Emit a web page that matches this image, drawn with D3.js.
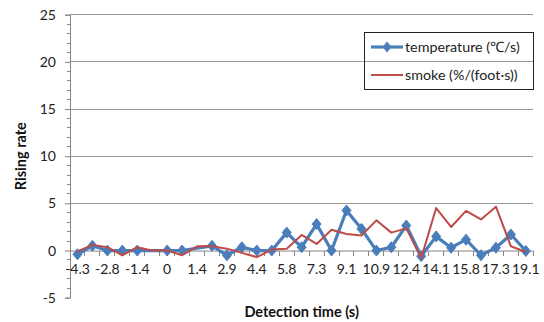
<!DOCTYPE html>
<html><head><meta charset="utf-8">
<script src="https://cdn.jsdelivr.net/npm/d3@7"></script>
<style>body{margin:0;background:#fff}svg{display:block}text{font-family:Lato,"Open Sans",sans-serif}</style>
</head><body><svg id="c" width="544" height="322"></svg>
<script>
const categories = [-4.3,-3.6,-2.8,-2.1,-1.4,-0.7,0,0.7,1.4,2.2,2.9,3.7,4.4,5.1,5.8,6.6,7.3,8.2,9.1,10,10.9,11.7,12.4,13.3,14.1,15,15.8,16.6,17.3,18.2,19.1];
const tickLabels = ["-4.3","-2.8","-1.4","0","1.4","2.9","4.4","5.8","7.3","9.1","10.9","12.4","14.1","15.8","17.3","19.1"];
const temperature = [-0.4,0.5,0,0,0,null,0,0,null,0.5,-0.5,0.35,0,0,1.9,0.35,2.8,0,4.25,2.3,0,0.35,2.65,-0.6,1.5,0.3,1.15,-0.5,0.3,1.7,-0.05];
const smoke = [-0.1,0.6,0.35,-0.5,0.35,0,0,-0.5,0.45,0.45,0.2,-0.25,-0.7,0.1,0.2,1.65,0.7,2.2,1.75,1.6,3.2,1.9,2.35,-0.8,4.5,2.5,4.2,3.3,4.65,0.45,-0.15];
const yTicks = [-5,0,5,10,15,20,25];
const seriesNames = ["temperature (\u2103/s)","smoke (%/(foot\u00b7s))"];
const colors = ["#4A7EBB","#BE4B48"];

const svg = d3.select("#c");
const L = 70, R = 533.3, T = 14.7, B = 297.7;
const x = d3.scaleBand().domain(categories.map(String)).range([L, R]).padding(0);
const y = d3.scaleLinear().domain([-5, 25]).range([B, T]);
const cx = i => x(String(categories[i])) + x.bandwidth()/2;

// gridlines
svg.append("g").selectAll("line").data(yTicks.filter(v => v !== 0 && v !== -5)).join("line")
  .attr("x1", L).attr("x2", R).attr("y1", d => y(d)).attr("y2", d => y(d))
  .attr("stroke", "#9a9a9a").attr("stroke-width", 1).attr("shape-rendering","crispEdges");

// y axis
const ya = svg.append("g").attr("transform", `translate(${L},0)`)
  .call(d3.axisLeft(y).tickValues(yTicks).tickSize(5).tickPadding(9).tickFormat(d => String(d)));
ya.select(".domain").attr("stroke", "#868686");
ya.selectAll(".tick line").attr("stroke", "#868686");
ya.selectAll("text").attr("font-size", 14).attr("fill", "#222").attr("font-family", "Lato,sans-serif");
// minor y ticks
svg.append("g").selectAll("line").data(d3.range(-5, 26, 1).filter(v => v % 5 !== 0)).join("line")
  .attr("x1", L-3).attr("x2", L).attr("y1", d => y(d)).attr("y2", d => y(d))
  .attr("stroke", "#868686").attr("shape-rendering","crispEdges");

// x axis at 0
const xa = svg.append("g").attr("transform", `translate(0,${y(0)})`)
  .call(d3.axisBottom(x).tickValues(categories.filter((c,i)=> i%2===0).map(String)).tickSize(0).tickPadding(14)
  .tickFormat((d,i) => tickLabels[i]));
xa.select(".domain").attr("stroke", "#868686");
xa.selectAll("text").attr("font-size", 14).attr("fill", "#222").attr("font-family", "Lato,sans-serif");
// boundary ticks
svg.append("g").selectAll("line").data(d3.range(categories.length + 1)).join("line")
  .attr("x1", i => L + i * x.step()).attr("x2", i => L + i * x.step())
  .attr("y1", y(0)).attr("y2", y(0) + 5)
  .attr("stroke", "#868686").attr("shape-rendering","crispEdges");

// temperature
const tPts = temperature.map((v,i) => ({i, v})).filter(d => d.v !== null);
svg.append("path").datum(tPts)
  .attr("d", d3.line().x(d => cx(d.i)).y(d => y(d.v)))
  .attr("fill", "none").attr("stroke", colors[0]).attr("stroke-width", 3.2).attr("stroke-linejoin","round");
const diamond = "M0,-5.5L4.5,0L0,5.5L-4.5,0Z";
svg.append("g").selectAll("path").data(tPts).join("path")
  .attr("transform", d => `translate(${cx(d.i)},${y(d.v)})`)
  .attr("d", diamond).attr("fill", colors[0]).attr("stroke", colors[0]).attr("stroke-width", 1);

// smoke
svg.append("path").datum(smoke.map((v,i)=>({i,v})))
  .attr("d", d3.line().x(d => cx(d.i)).y(d => y(d.v)))
  .attr("fill", "none").attr("stroke", colors[1]).attr("stroke-width", 2).attr("stroke-linejoin","round");

// legend
const lg = svg.append("g");
lg.append("rect").attr("x", 364.5).attr("y", 32.5).attr("width", 169).attr("height", 57)
  .attr("fill", "none").attr("stroke", "#222").attr("stroke-width", 1);
const lgY = [47, 75];
seriesNames.forEach((name, k) => {
  lg.append("line").attr("x1", 371).attr("x2", 403).attr("y1", lgY[k]).attr("y2", lgY[k])
    .attr("stroke", colors[k]).attr("stroke-width", k === 0 ? 3.2 : 2);
  if (k === 0) lg.append("path").attr("transform", `translate(387,${lgY[k]})`).attr("d", diamond).attr("fill", colors[0]);
  lg.append("text").attr("x", 405).attr("y", lgY[k]).attr("dy", "0.35em")
    .attr("font-size", 14.3).attr("fill", "#222").text(name);
});

// axis titles
svg.append("text").attr("transform", `translate(26,${(T+B)/2}) rotate(-90)`)
  .attr("text-anchor","middle").attr("font-weight","bold").attr("font-size", 14.5).attr("fill","#111").text("Rising rate");
svg.append("text").attr("x", (L+R)/2).attr("y", 317).attr("text-anchor","middle")
  .attr("font-weight","bold").attr("font-size", 14.5).attr("fill","#111").text("Detection time (s)");
</script></body></html>
